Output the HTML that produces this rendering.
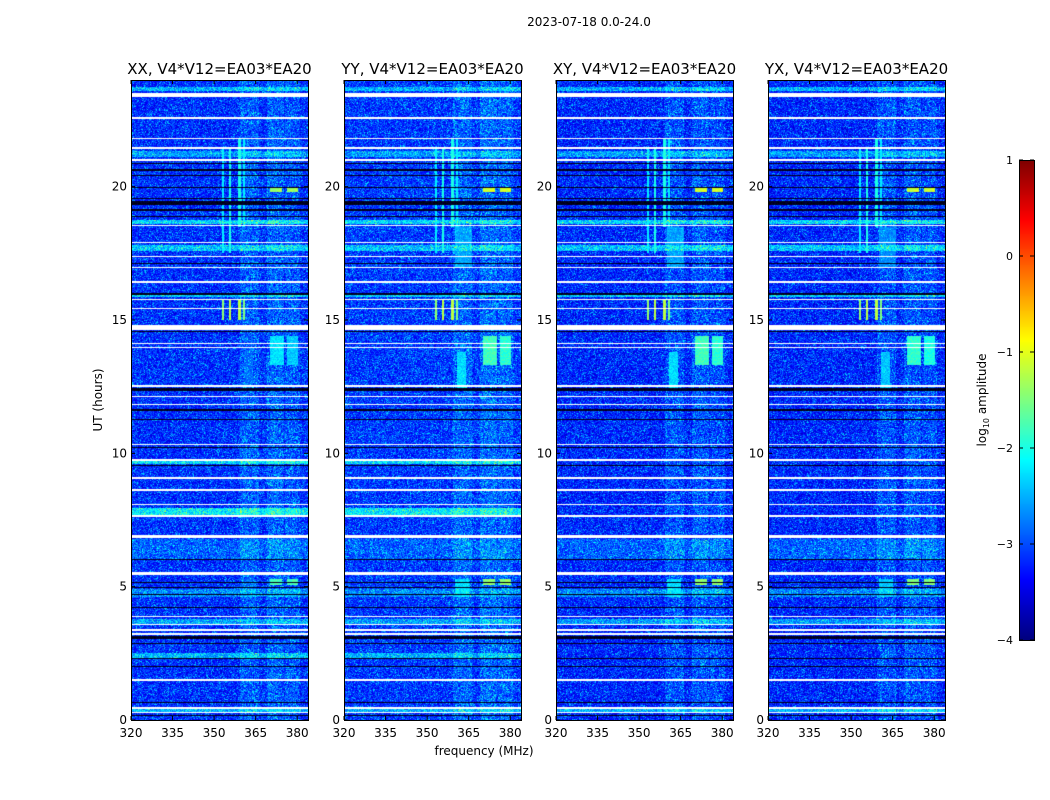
<!DOCTYPE html>
<html><head><meta charset="utf-8"><style>
body{margin:0;background:#fff;width:1050px;height:800px;overflow:hidden;position:relative;font-family:"DejaVu Sans","Liberation Sans",sans-serif}
canvas{position:absolute}
svg{position:absolute;left:0;top:0}
</style></head><body>
<div id="root"></div>
<svg id="svg" width="1050" height="800"></svg>
<script>
// ---- data ----
const panelTitles = ["XX, V4*V12=EA03*EA20","YY, V4*V12=EA03*EA20","XY, V4*V12=EA03*EA20","YX, V4*V12=EA03*EA20"];
const xTicks = [320,335,350,365,380];
const yTicks = [0,5,10,15,20];
const cbTicks = [1,0,-1,-2,-3,-4];
const baseLevel = [-3.15,-3.1,-3.2,-3.2];
// white (flagged) gaps in hours [start,end]
const whiteGaps = [[23.38,23.5],[22.55,22.6],[21.78,21.83],[21.42,21.47],[20.98,21.05],[18.52,18.57],[17.88,17.93],[17.35,17.4],[16.95,17.0],[16.4,16.45],[15.75,15.8],[15.4,15.45],[14.62,14.82],[14.1,14.15],[13.95,14.0],[12.5,12.55],[12.1,12.15],[11.8,11.85],[10.3,10.35],[9.72,9.77],[9.05,9.1],[8.6,8.65],[8.05,8.1],[7.62,7.67],[6.82,6.95],[5.42,5.55],[3.85,3.9],[3.55,3.6],[3.35,3.4],[3.2,3.25],[1.48,1.54],[0.42,0.47],[0.25,0.3]];
// dark rows in hours [start,end]
const darkRows = [[20.85,20.9],[20.6,20.65],[20.4,20.45],[20.2,20.23],[19.95,19.98],[19.75,19.78],[19.55,19.58],[19.3,19.45],[19.1,19.15],[18.85,18.9],[17.1,17.13],[15.95,16.0],[14.55,14.6],[13.3,13.33],[12.35,12.45],[11.6,11.65],[11.25,11.3],[10.2,10.25],[9.52,9.56],[8.35,8.38],[7.3,7.33],[6.0,6.05],[5.15,5.18],[4.95,4.98],[4.7,4.73],[4.45,4.48],[4.2,4.23],[4.0,4.03],[3.05,3.15],[2.85,2.88],[2.3,2.33],[2.0,2.03],[1.0,1.03],[0.65,0.68],[0.15,0.2]];
// brightened time bands [start,end,level, panel mask]
const brightBands = [[23.6,23.75,-2.5,[1,1,1,1]],[21.1,21.35,-2.6,[1,1,1,1]],[18.6,18.75,-2.3,[1,1,1,1]],[17.6,17.8,-2.4,[1,1,1,1]],[15.85,15.95,-2.4,[1,1,1,1]],[9.6,9.7,-2.3,[1,1,0,0]],[7.7,7.95,-2.2,[1,1,0,0]],[6.0,6.8,-2.9,[1,1,1,1]],[4.6,4.9,-2.7,[1,1,1,1]],[3.6,3.8,-2.6,[1,1,1,1]],[2.3,2.5,-2.5,[1,1,0,0]],[0.3,0.4,-2.5,[1,1,1,1]]];
// frequency enhancement columns [f0,f1,amount]
const freqBumps = [[359,366,0.45],[369,375,0.5],[375.5,381,0.4]];
// rfi blocks [f0,f1,h0,h1,level]
const blocks = [[370,374.5,19.8,20.0,-1.1],[376,380,19.8,20.0,-1.1],[370,374.5,5.05,5.3,-1.4],[376,380,5.05,5.3,-1.4],[360,365,4.6,5.3,-2.3],[370,375,13.3,14.4,-1.8],[376,380,13.3,14.4,-1.9],[360.5,364,12.4,13.8,-2.3],[360,366,17.0,18.5,-2.6]];
const blockScale = [0.75,1.0,1.0,0.95];
// narrow RFI lines [freq,h0,h1,level]
const rfiLines = [[353,15.0,15.8,-1.4],[355.5,15.0,15.8,-1.2],[359,15.0,15.8,-1.2],[360.5,15.0,15.8,-1.5],[353,17.5,21.5,-2.2],[355.5,17.5,21.5,-2.0],[359,18.5,21.8,-2.0],[360.5,18.5,21.8,-2.2]];

// ---- layout ----
const PX=[131,344,556,768], PW=177, PT=80, PH=640;
const fx=(f,i)=>PX[i]+(f-320)*2.77;
const hy=h=>PT+PH-(h/24)*PH;
function jet(v){
  const r=Math.min(Math.max(Math.min(4*v-1.5,-4*v+4.5),0),1);
  const g=Math.min(Math.max(Math.min(4*v-0.5,-4*v+3.5),0),1);
  const b=Math.min(Math.max(Math.min(4*v+0.5,-4*v+2.5),0),1);
  return [r*255|0,g*255|0,b*255|0];
}
function hash(a,b){let h=(a*374761393+b*668265263)|0;h=(h^(h>>>13))*1274126177|0;return ((h^(h>>>16))>>>0)/4294967296;}
const root=document.getElementById('root');
for(let p=0;p<4;p++){
  const c=document.createElement('canvas');
  c.width=PW;c.height=PH;c.style.left=PX[p]+'px';c.style.top=PT+'px';
  
  
  root.appendChild(c);
  const ctx=c.getContext('2d');const img=ctx.createImageData(PW,PH);
  for(let y=0;y<PH;y++){
    const h=(PH-y-0.5)/PH*24;
    let row=baseLevel[p], white=false, dark=false;
    for(const g of whiteGaps) if(h>=g[0]&&h<=g[1]) white=true;
    for(const d of darkRows) if(h>=d[0]&&h<=d[1]) dark=true;
    for(const b of brightBands) if(b[3][p]&&h>=b[0]&&h<=b[1]) row=Math.max(row,b[2]);
    for(let x=0;x<PW;x++){
      const f=320+x/2.77;let k=(y*PW+x)*4;
      if(white){img.data[k]=img.data[k+1]=img.data[k+2]=255;img.data[k+3]=255;continue;}
      if(dark){img.data[k]=0;img.data[k+1]=0;img.data[k+2]=(hash(x,y+p*999)*60)|0;img.data[k+3]=255;continue;}
      const n=hash(x+p*1000,y);
      let v=row+(n-0.5)*0.9+(n>0.93?0.35:0);
      for(const fb of freqBumps) if(f>=fb[0]&&f<=fb[1]) v+=fb[2]*hash(x*7,y*3+p);
      for(const bl of blocks) if(f>=bl[0]&&f<=bl[1]&&h>=bl[2]&&h<=bl[3]) v=Math.max(v,bl[4]*(2-blockScale[p])+(hash(x,y)-0.5)*0.4);
      for(const l of rfiLines) if(Math.abs(f-l[0])<0.4&&h>=l[1]&&h<=l[2]) v=Math.max(v,l[3]);
      const col=jet(Math.min(1,Math.max(0,(v+4)/5)));
      img.data[k]=col[0];img.data[k+1]=col[1];img.data[k+2]=col[2];img.data[k+3]=255;
    }
  }
  ctx.putImageData(img,0,0);
}
// colorbar
const cb=document.createElement('canvas');cb.width=15;cb.height=480;cb.style.left='1019px';cb.style.top='160px';


root.appendChild(cb);
{const ctx=cb.getContext('2d');for(let y=0;y<480;y++){const c=jet(1-y/479);ctx.fillStyle=`rgb(${c})`;ctx.fillRect(0,y,15,1);}}

// axes svg
const svg=document.getElementById('svg');const NS='http://www.w3.org/2000/svg';
function el(t,a,txt){const e=document.createElementNS(NS,t);for(const k in a)e.setAttribute(k,a[k]);if(txt!==undefined)e.textContent=txt;svg.appendChild(e);return e;}
let e;
e=el('text',{x:589,y:26,'font-size':12,'text-anchor':'middle'},'2023-07-18 0.0-24.0');


for(let p=0;p<4;p++){
  e=el('rect',{x:PX[p]+0.5,y:PT+0.5,width:PW,height:PH,fill:'none',stroke:'#000','stroke-width':1});
  
  
  e=el('text',{x:PX[p]+PW/2,y:74,'font-size':15,'text-anchor':'middle'},panelTitles[p]);
  
  
  for(const t of xTicks){const x=fx(t,p);
    el('line',{x1:x,x2:x,y1:PT+PH,y2:PT+PH-4,stroke:'#000'});el('line',{x1:x,x2:x,y1:PT,y2:PT+4,stroke:'#000'});
    e=el('text',{x:x,y:737,'font-size':12,'text-anchor':'middle'},t);
    
    }
  for(const t of yTicks){const y=hy(t);
    el('line',{x1:PX[p],x2:PX[p]+4,y1:y,y2:y,stroke:'#000'});el('line',{x1:PX[p]+PW,x2:PX[p]+PW-4,y1:y,y2:y,stroke:'#000'});
    e=el('text',{x:PX[p]-4,y:y+4,'font-size':12,'text-anchor':'end'},t);
    
    }
}
e=el('text',{x:484,y:755,'font-size':12,'text-anchor':'middle'},'frequency (MHz)');


e=el('text',{x:0,y:0,'font-size':12,'text-anchor':'middle',transform:'translate(102,400) rotate(-90)'},'UT (hours)');


e=el('rect',{x:1019.5,y:160.5,width:15,height:480,fill:'none',stroke:'#000'});


for(const t of cbTicks){const y=160+(1-t)*96;
  el('line',{x1:1019,x2:1023,y1:y,y2:y,stroke:'#000'});el('line',{x1:1034,x2:1030,y1:y,y2:y,stroke:'#000'});
  e=el('text',{x:1013,y:y+4,'font-size':11,'text-anchor':'end'},t<0?'\u2212'+(-t):t);
  
  }
e=el('text',{x:0,y:0,'font-size':12,'text-anchor':'middle',transform:'translate(986,400) rotate(-90)'});
e.innerHTML='log<tspan font-size="8" dy="3">10</tspan><tspan dy="-3"> amplitude</tspan>';


</script>
</body></html>
